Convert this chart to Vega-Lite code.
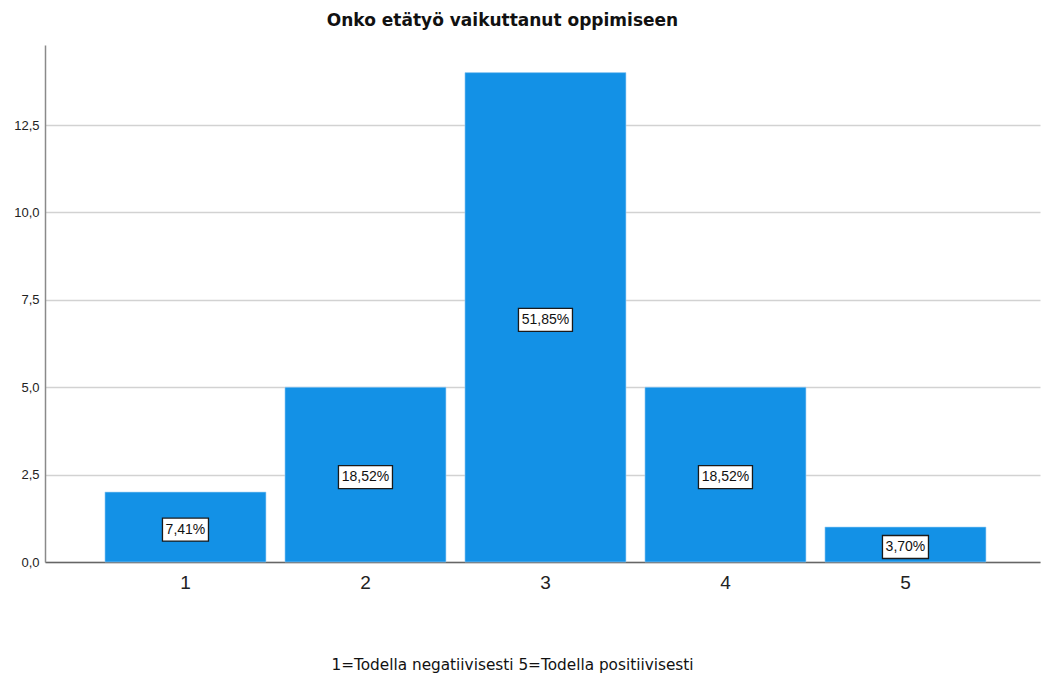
{
  "$schema": "https://vega.github.io/schema/vega-lite/v6.json",
  "autosize": "none",
  "width": 995,
  "height": 517,
  "padding": {"left": 45, "top": 45, "right": 4, "bottom": 115},
  "background": "white",
  "config": {
    "locale": {"number": {"decimal": ",", "thousands": " ", "grouping": [3], "currency": ["", " €"]}},
    "view": {"stroke": null},
    "font": "Liberation Sans"
  },
  "title": {
    "text": "Onko etätyö vaikuttanut oppimiseen",
    "font": "DejaVu Sans",
    "fontSize": 17,
    "fontWeight": "bold",
    "color": "#111111",
    "anchor": "middle",
    "dx": -40,
    "offset": 15
  },
  "data": {
    "values": [
      {"vastaus": "1", "n": 2, "osuus": "7,41%", "pitka": false},
      {"vastaus": "2", "n": 5, "osuus": "18,52%", "pitka": true},
      {"vastaus": "3", "n": 14, "osuus": "51,85%", "pitka": true},
      {"vastaus": "4", "n": 5, "osuus": "18,52%", "pitka": true},
      {"vastaus": "5", "n": 1, "osuus": "3,70%", "pitka": false}
    ]
  },
  "encoding": {
    "x": {
      "field": "vastaus",
      "type": "ordinal",
      "sort": ["1", "2", "3", "4", "5"],
      "scale": {"paddingInner": 0.1056, "paddingOuter": 0.3167, "align": 0.526},
      "axis": {
        "title": "1=Todella negatiivisesti 5=Todella positiivisesti",
        "titleFont": "DejaVu Sans",
        "titleFontSize": 15.3,
        "titleFontWeight": "normal",
        "titleColor": "#111111",
        "titleX": 467,
        "titleY": 102,
        "titleAnchor": null,
        "titleAlign": "center",
        "titleBaseline": "middle",
        "labelAngle": 0,
        "labelFont": "Liberation Sans",
        "labelFontSize": 19,
        "labelColor": "#222222",
        "labelPadding": 11,
        "ticks": false,
        "domainColor": "#666666",
        "domainWidth": 1.5,
        "grid": false
      }
    }
  },
  "layer": [
    {
      "mark": {"type": "bar", "color": "#1391E6", "stroke": "#9fd0f5", "strokeWidth": 0.6},
      "encoding": {
        "y": {
          "field": "n",
          "type": "quantitative",
          "scale": {"domain": [0, 14.79], "nice": false, "zero": true},
          "axis": {
            "title": null,
            "values": [0, 2.5, 5, 7.5, 10, 12.5],
            "format": ".1f",
            "labelFont": "Liberation Sans",
            "labelFontSize": 13,
            "labelColor": "#222222",
            "labelPadding": 6,
            "ticks": false,
            "domainColor": "#8a8a8a",
            "domainWidth": 1.5,
            "grid": true,
            "gridColor": "#d2d2d2",
            "gridWidth": 1.5
          }
        }
      }
    },
    {
      "transform": [{"filter": "datum.pitka"}],
      "mark": {"type": "rect", "width": 54, "height": 23, "fill": "white", "stroke": "#1a1a1a", "strokeWidth": 1.3},
      "encoding": {
        "y": {"field": "n", "type": "quantitative", "scale": {"domain": [0, 29.58], "nice": false}, "axis": null},
        "yOffset": {"value": 2.5}
      }
    },
    {
      "transform": [{"filter": "!datum.pitka"}],
      "mark": {"type": "rect", "width": 46, "height": 23, "fill": "white", "stroke": "#1a1a1a", "strokeWidth": 1.3},
      "encoding": {
        "y": {"field": "n", "type": "quantitative", "scale": {"domain": [0, 29.58], "nice": false}, "axis": null},
        "yOffset": {"value": 2.5}
      }
    },
    {
      "mark": {"type": "text", "font": "Liberation Sans", "fontSize": 14, "color": "#111111", "baseline": "middle", "align": "center", "dy": 2.5},
      "encoding": {
        "y": {"field": "n", "type": "quantitative", "scale": {"domain": [0, 29.58], "nice": false}, "axis": null},
        "text": {"field": "osuus"}
      }
    }
  ],
  "resolve": {"scale": {"y": "independent"}}
}
